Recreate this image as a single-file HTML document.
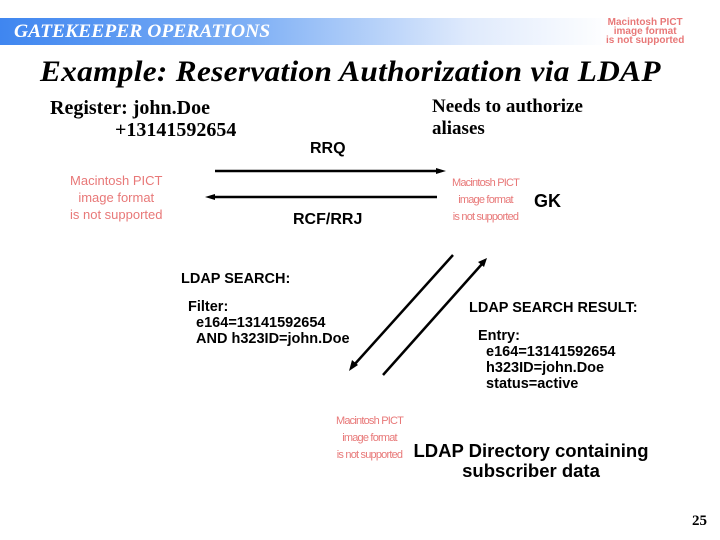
<!DOCTYPE html>
<html><head><style>
body{margin:0;width:720px;height:540px;background:#fff;position:relative;overflow:hidden;font-family:"Liberation Sans",sans-serif}
.a{position:absolute;white-space:nowrap}
.s{font-family:"Liberation Serif",serif;font-weight:bold}
.p{color:#e87878;text-align:center;font-size:13px;line-height:17px}
.b{font-size:14.5px;line-height:16px;font-weight:bold}
</style></head><body>
<div class="a" style="left:0;top:18px;width:720px;height:27px;background:linear-gradient(90deg,#3f86f0 0%,#7fb0f5 35%,#dfeafc 65%,#ffffff 85%)"></div>
<div class="a s" style="left:14px;top:21px;font-size:19px;font-style:italic;color:#fff;transform:scaleX(1.03);transform-origin:left">GATEKEEPER OPERATIONS</div>
<div class="a p" style="left:606px;top:18px;font-size:10px;line-height:9px;font-weight:bold">Macintosh PICT<br>image format<br>is not supported</div>
<div class="a s" style="left:40px;top:55px;font-size:30px;font-style:italic;transform:scaleX(1.043);transform-origin:left;letter-spacing:0.3px">Example: Reservation Authorization via LDAP</div>
<div class="a s" style="left:50px;top:97px;font-size:20px;line-height:22px">Register: john.Doe<br>&nbsp;&nbsp;&nbsp;&nbsp;&nbsp;&nbsp;&nbsp;&nbsp;&nbsp;&nbsp;&nbsp;&nbsp;&nbsp;+13141592654</div>
<div class="a s" style="left:432px;top:96px;font-size:19px;line-height:22px">Needs to authorize<br>aliases</div>
<div class="a" style="left:310px;top:140px;font-size:16px;font-weight:bold">RRQ</div>
<div class="a" style="left:293px;top:211px;font-size:16px;font-weight:bold">RCF/RRJ</div>
<div class="a" style="left:534px;top:191px;font-size:18px;font-weight:bold">GK</div>
<div class="a p" style="left:70px;top:172px;line-height:17px">Macintosh PICT<br>image format<br>is not supported</div>
<div class="a p" style="left:452px;top:175px;font-size:11px;line-height:17px;letter-spacing:-0.8px">Macintosh PICT<br>image format<br>is not supported</div>
<div class="a p" style="left:336px;top:413px;font-size:11px;line-height:17px;letter-spacing:-0.8px">Macintosh PICT<br>image format<br>is not supported</div>
<svg class="a" style="left:0;top:0" width="720" height="540">
<g stroke="#000" stroke-width="2.5" fill="#000">
<line x1="215" y1="171" x2="440" y2="171"/><polygon points="446,171 436,168 436,174" stroke="none"/>
<line x1="212" y1="197" x2="437" y2="197"/><polygon points="205,197 215,194 215,200" stroke="none"/>
<line x1="453" y1="255" x2="354" y2="365"/><polygon points="349,371 352,360 358,365" stroke="none"/>
<line x1="383" y1="375" x2="482" y2="264"/><polygon points="487,258 478,262 484,267" stroke="none"/>
</g></svg>
<div class="a b" style="left:181px;top:271px">LDAP SEARCH:</div>
<div class="a b" style="left:188px;top:299px">Filter:<br>&nbsp;&nbsp;e164=13141592654<br>&nbsp;&nbsp;AND h323ID=john.Doe</div>
<div class="a b" style="left:469px;top:300px">LDAP SEARCH RESULT:</div>
<div class="a b" style="left:478px;top:328px">Entry:<br>&nbsp;&nbsp;e164=13141592654<br>&nbsp;&nbsp;h323ID=john.Doe<br>&nbsp;&nbsp;status=active</div>
<div class="a" style="left:404px;top:441px;width:254px;text-align:center;font-size:18.5px;font-weight:bold;line-height:20px">LDAP Directory containing<br>subscriber data</div>
<div class="a s" style="left:692px;top:513px;font-size:15px">25</div>
</body></html>
